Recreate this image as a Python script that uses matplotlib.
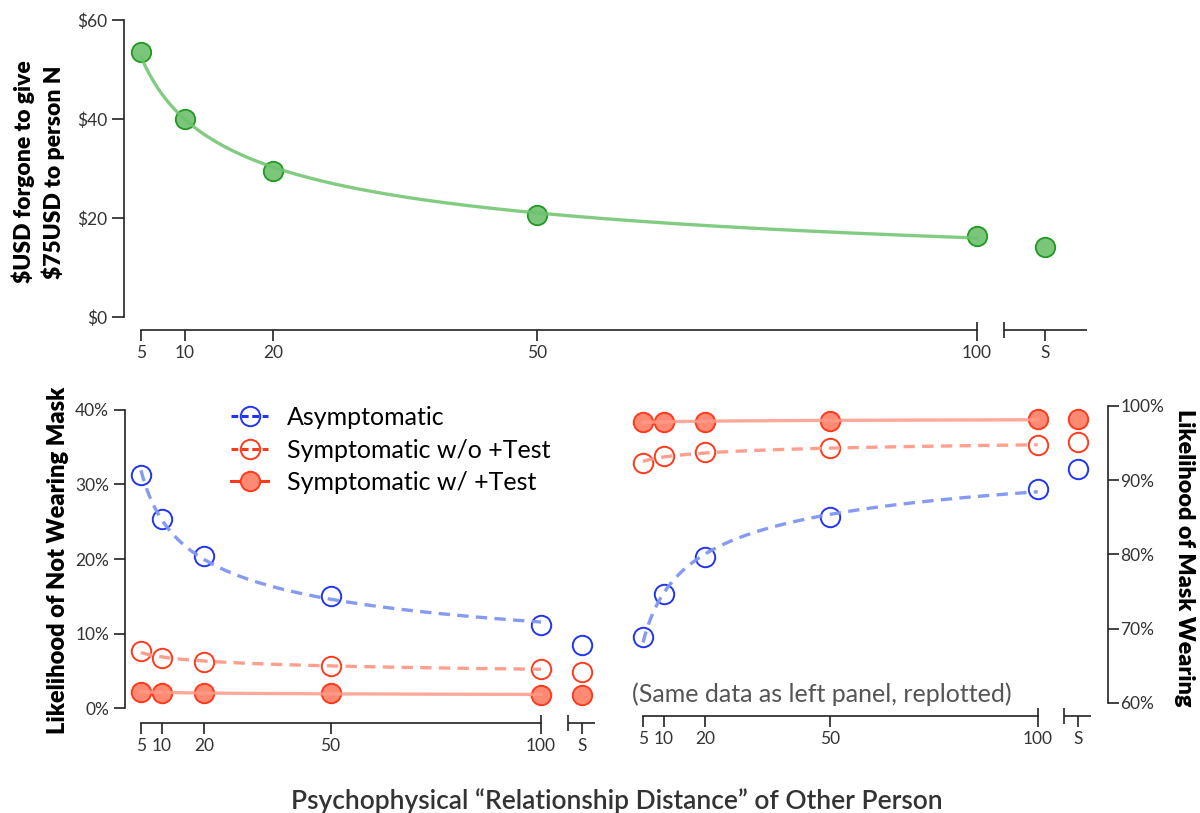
import numpy as np
import matplotlib
matplotlib.use("Agg")
import matplotlib.pyplot as plt
from matplotlib.lines import Line2D

plt.rcParams['font.family'] = ['Lato', 'DejaVu Sans']

# relationship distance N (S = self, plotted apart after an axis break)
dist = [5, 10, 20, 50, 100]
dist_labels = ['5', '10', '20', '50', '100']

# top panel: $ forgone to give $75 to person N
usd_forgone = [53.5, 40.0, 29.5, 20.6, 16.4]
usd_forgone_S = 14.1

# bottom: likelihood of NOT wearing mask (%)
asym = [31.2, 25.3, 20.4, 15.0, 11.2]
asym_S = 8.5
symp_no_test = [7.7, 6.7, 6.2, 5.7, 5.3]
symp_no_test_S = 4.8
symp_test = [2.2, 2.1, 2.1, 2.0, 1.8]
symp_test_S = 1.75

W, H = 1200, 813
INK = '#222222'
TICK_FS = 12.5


def power_fit(x, y):
    # y = a * N^b, fitted in log-log space
    x = np.asarray(x, float)
    y = np.asarray(y, float)
    b, a = np.polyfit(np.log(x), np.log(y), 1)
    xs = np.linspace(x.min(), x.max(), 200)
    return xs, np.exp(a) * xs ** b


def px_axes(l, r, t, b):
    return fig.add_axes([l / W, 1 - b / H, (r - l) / W, (b - t) / H])


def broken_xaxis(ax, s_pos, brk, xend, offset_px, height_px):
    ax.spines['bottom'].set_position(('outward', offset_px * 0.72))
    ax.spines['bottom'].set_bounds(5, 100)
    ax.spines['bottom'].set_color(INK)
    ax.spines['bottom'].set_linewidth(1.2)
    ax.set_xticks(dist + [s_pos])
    ax.set_xticklabels(dist_labels + ['S'])
    y = -offset_px / height_px
    up = 8 / height_px
    dn = 8 / height_px
    tr = ax.get_xaxis_transform()
    kw = dict(transform=tr, color=INK, lw=1.2, clip_on=False, solid_capstyle='butt')
    ax.plot([brk, xend], [y, y], **kw)
    ax.plot([100, 100], [y, y + up], **kw)
    ax.plot([brk, brk], [y - dn, y + up], **kw)
    ax.tick_params(axis='x', length=8, width=1.2, color=INK, pad=3,
                   labelsize=TICK_FS, labelcolor='#333333')


fig = plt.figure(figsize=(12, 8.13), dpi=100)

# ---------------- top panel ----------------
ax1 = px_axes(124, 1087, 20, 317)
green_fill = '#7cc67c'
green_edge = '#1f9a1f'
xs, ys = power_fit(dist, usd_forgone)
ax1.plot(dist, usd_forgone, 'o', ms=14, mfc=green_fill, mec=green_edge, mew=1.3, zorder=3)
ax1.plot([107.7], [usd_forgone_S], 'o', ms=14, mfc=green_fill, mec=green_edge, mew=1.3, zorder=3)
ax1.plot(xs, ys, color='#6cc46c', lw=2.4, alpha=0.85, zorder=4)
ax1.set_xlim(3.07, 112.5)
ax1.set_ylim(0, 60)
ax1.set_yticks([0, 20, 40, 60])
ax1.set_yticklabels(['$0', '$20', '$40', '$60'])
for s in ['top', 'right']:
    ax1.spines[s].set_visible(False)
ax1.spines['left'].set_color(INK)
ax1.spines['left'].set_linewidth(1.2)
ax1.tick_params(axis='y', length=8.5, width=1.2, color=INK, pad=3.5,
                labelsize=TICK_FS, labelcolor='#333333')
broken_xaxis(ax1, 107.7, 103.1, 112.5, 13, 297)

fig.text(38 / W, 1 - 172 / H, "$USD forgone to give\n$75USD to person N",
         rotation=90, ha='center', va='center', fontsize=16.5, weight='heavy',
         linespacing=1.35, color='black')

# ---------------- bottom left ----------------
blue_edge = '#2035f0'
blue_line = '#7f95f3'
red_edge = '#ff3a1c'
red_line = '#ff9a88'
red_fill = '#ff8a74'

ax2 = px_axes(125, 595, 409.7, 708.3)
S2 = 109.7


def draw_series(ax, xS, vals, valS, face, edge, lcol, ls, flip=False):
    vals = np.asarray(vals, float)
    fx, fy = power_fit(dist, vals)
    if flip:
        vals, valS, fy = 100 - vals, 100 - valS, 100 - fy
    ax.plot(dist, vals, 'o', ms=14, mfc=face, mec=edge, mew=1.4, zorder=3)
    ax.plot([xS], [valS], 'o', ms=14, mfc=face, mec=edge, mew=1.4, zorder=3)
    if ls == 'dashed':
        ax.plot(fx, fy, color=lcol, lw=2.4, dashes=(3.4, 2.2), zorder=4, alpha=0.95)
    else:
        ax.plot(fx, fy, color=lcol, lw=2.4, zorder=4, alpha=0.85)


draw_series(ax2, S2, asym, asym_S, 'none', blue_edge, blue_line, 'dashed')
draw_series(ax2, S2, symp_no_test, symp_no_test_S, 'none', red_edge, red_line, 'dashed')
draw_series(ax2, S2, symp_test, symp_test_S, red_fill, red_edge, red_line, 'solid')
ax2.set_xlim(1.2, 112.8)
ax2.set_ylim(0, 40)
ax2.set_yticks([0, 10, 20, 30, 40])
ax2.set_yticklabels(['0%', '10%', '20%', '30%', '40%'])
for s in ['top', 'right']:
    ax2.spines[s].set_visible(False)
ax2.spines['left'].set_color(INK)
ax2.spines['left'].set_linewidth(1.2)
ax2.tick_params(axis='y', length=8, width=1.2, color=INK, pad=3.5,
                labelsize=TICK_FS, labelcolor='#333333')
broken_xaxis(ax2, S2, 106.5, 112.8, 14.4, 298.6)

handles = [
    Line2D([], [], color=blue_edge, dashes=(2.2, 1.2), lw=2.2, marker='o', ms=14,
           mfc='none', mec=blue_edge, mew=1.4),
    Line2D([], [], color=red_edge, dashes=(2.2, 1.2), lw=2.2, marker='o', ms=14,
           mfc='none', mec=red_edge, mew=1.4),
    Line2D([], [], color=red_edge, lw=2.2, marker='o', ms=14,
           mfc=red_fill, mec=red_edge, mew=1.4),
]
ax2.legend(handles, ['Asymptomatic', 'Symptomatic w/o +Test', 'Symptomatic w/ +Test'],
           loc='upper left', bbox_to_anchor=(0.225, 1.012), frameon=False,
           fontsize=18, handlelength=1.5, handletextpad=0.75, labelspacing=0.38,
           borderpad=0, borderaxespad=0)

fig.text(58 / W, 1 - 560 / H, "Likelihood of Not Wearing Mask", rotation=90,
         ha='center', va='center', fontsize=17, weight='heavy', color='black')

# ---------------- bottom right (same data, 100 - value) ----------------
ax3 = px_axes(630, 1108, 406, 702.7)
S3 = 109.6
draw_series(ax3, S3, asym, asym_S, 'none', blue_edge, blue_line, 'dashed', flip=True)
draw_series(ax3, S3, symp_no_test, symp_no_test_S, 'none', red_edge, red_line, 'dashed', flip=True)
draw_series(ax3, S3, symp_test, symp_test_S, red_fill, red_edge, red_line, 'solid', flip=True)
ax3.set_xlim(1.87, 116.9)
ax3.set_ylim(60, 100)
ax3.set_yticks([60, 70, 80, 90, 100])
ax3.set_yticklabels(['60%', '70%', '80%', '90%', '100%'])
for s in ['top', 'left']:
    ax3.spines[s].set_visible(False)
ax3.spines['right'].set_color(INK)
ax3.spines['right'].set_linewidth(1.2)
ax3.yaxis.tick_right()
ax3.tick_params(axis='y', length=8, width=1.2, color=INK, pad=1,
                labelsize=TICK_FS, labelcolor='#333333')
broken_xaxis(ax3, S3, 106.4, 112.7, 13.3, 296.7)
ax3.text(0.004, 0.03, "(Same data as left panel, replotted)", transform=ax3.transAxes,
         ha='left', va='center', fontsize=18, color='#555555')

fig.text(1185 / W, 1 - 558 / H, "Likelihood of Mask Wearing", rotation=270,
         ha='center', va='center', fontsize=16.8, weight='heavy', color='black')

fig.text(617 / W, 1 - 801 / H, "Psychophysical \u201cRelationship Distance\u201d of Other Person",
         ha='center', va='center', fontsize=19, weight='semibold', color='#333333')

fig.savefig('out.png', dpi=100)
